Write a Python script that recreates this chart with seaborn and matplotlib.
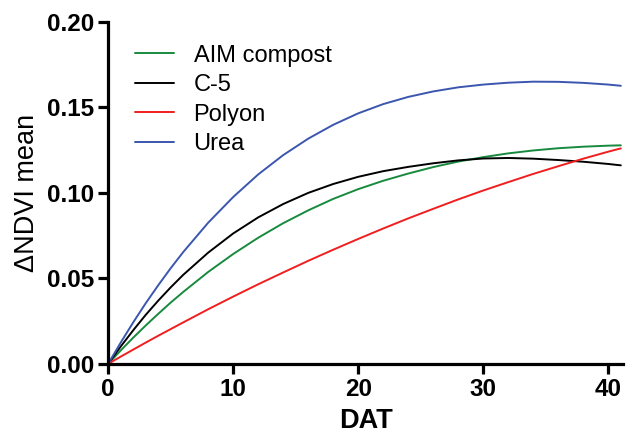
import numpy as np
import pandas as pd
import matplotlib
matplotlib.use("Agg")
import matplotlib.pyplot as plt
import seaborn as sns

dat = [0, 1, 2, 3, 4, 5, 6, 8, 10, 12, 14, 16, 18, 20, 22, 24, 26, 28, 30, 32, 34, 36, 38, 40, 41]

aim_compost = [0.0, 0.0078, 0.0153, 0.0224, 0.0292, 0.0358, 0.0420, 0.0537, 0.0642, 0.0737,
               0.0822, 0.0897, 0.0964, 0.1021, 0.1070, 0.1112, 0.1150, 0.1182, 0.1208, 0.1230,
               0.1247, 0.1260, 0.1269, 0.1275, 0.1277]
c5 = [0.0, 0.0101, 0.0196, 0.0286, 0.0369, 0.0447, 0.0520, 0.0650, 0.0762, 0.0856,
      0.0934, 0.0999, 0.1051, 0.1093, 0.1126, 0.1151, 0.1172, 0.1189, 0.1200, 0.1203,
      0.1199, 0.1191, 0.1181, 0.1168, 0.1160]
polyon = [0.0, 0.0042, 0.0083, 0.0124, 0.0164, 0.0203, 0.0242, 0.0319, 0.0393, 0.0465,
          0.0534, 0.0602, 0.0667, 0.0730, 0.0791, 0.0850, 0.0906, 0.0961, 0.1013, 0.1062,
          0.1110, 0.1155, 0.1199, 0.1240, 0.1259]
urea = [0.0, 0.0124, 0.0242, 0.0354, 0.0459, 0.0559, 0.0653, 0.0825, 0.0975, 0.1107,
        0.1220, 0.1316, 0.1397, 0.1464, 0.1518, 0.1560, 0.1592, 0.1616, 0.1632, 0.1643,
        0.1649, 0.1648, 0.1642, 0.1632, 0.1625]

treatments = ["AIM compost", "C-5", "Polyon", "Urea"]
colors = {"AIM compost": "#178a3e", "C-5": "#000000", "Polyon": "#f01e1e", "Urea": "#3b56ae"}

frames = []
for name, vals in zip(treatments, [aim_compost, c5, polyon, urea]):
    frames.append(pd.DataFrame({"DAT": dat, "dNDVI": vals, "Treatment": name}))
df = pd.concat(frames, ignore_index=True)

sns.set_style("ticks")
plt.rcParams["font.family"] = ["Liberation Sans", "DejaVu Sans"]
plt.rcParams["text.color"] = "black"
plt.rcParams["axes.labelcolor"] = "black"

fig = plt.figure(figsize=(6.29, 4.41), dpi=100)
ax = fig.add_axes([0.172, 0.175, 0.819, 0.776])

sns.lineplot(data=df, x="DAT", y="dNDVI", hue="Treatment", hue_order=treatments,
             palette=colors, linewidth=1.4, ax=ax)

ax.set_xlim(0, 41.2)
ax.set_ylim(0, 0.20)
ax.set_xticks([0, 10, 20, 30, 40])
ax.set_yticks([0.00, 0.05, 0.10, 0.15, 0.20])
ax.set_yticklabels(["0.00", "0.05", "0.10", "0.15", "0.20"])

for side in ["top", "right"]:
    ax.spines[side].set_visible(False)
for side in ["left", "bottom"]:
    ax.spines[side].set_linewidth(2.3)
    ax.spines[side].set_color("black")

ax.tick_params(axis="both", direction="out", length=7, width=2.3, colors="black",
               labelsize=17.5, pad=3)
for lab in ax.get_xticklabels() + ax.get_yticklabels():
    lab.set_fontweight("bold")

ax.set_xlabel("DAT", fontsize=19.5, fontweight="bold", labelpad=5, color="black")
ax.set_ylabel("\u0394NDVI mean", fontsize=19.5, labelpad=5, color="black")

leg = ax.legend(loc="upper left", bbox_to_anchor=(0.01, 0.995), frameon=False,
                fontsize=17, handlelength=1.65, handletextpad=0.85, labelspacing=0.32)
for line in leg.get_lines():
    line.set_linewidth(1.4)
for txt in leg.get_texts():
    txt.set_color("black")

fig.savefig("out.png", dpi=100)
